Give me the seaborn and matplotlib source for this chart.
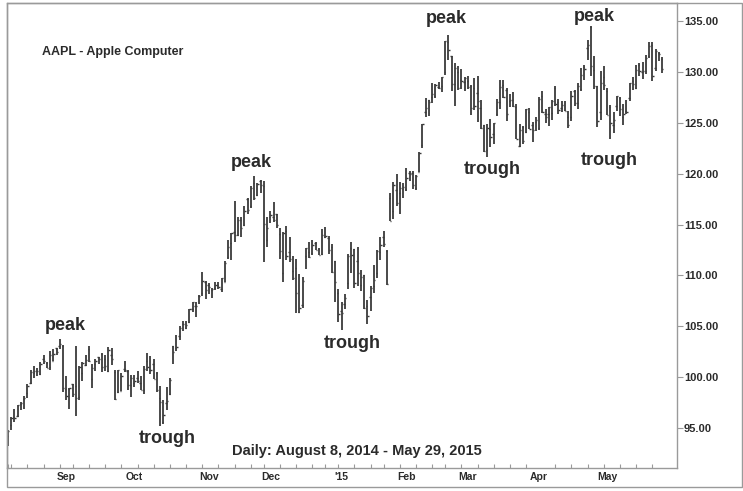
import numpy as np
import pandas as pd
import seaborn as sns
import matplotlib.pyplot as plt
from matplotlib.patches import Rectangle

# === Daily OHLC, AAPL, Aug 8 2014 - May 29 2015 ===
opens = [
    # Aug
    94.26, 95.27, 96.04, 96.15, 97.33, 97.90, 98.49, 99.41, 100.44, 100.57, 100.29, 101.79, 101.42, 101.02, 101.59, 102.86,
    # Sep
    103.06, 103.10, 98.85, 98.80, 99.30, 99.08, 98.01, 100.41, 101.21, 102.81, 99.80, 101.27, 101.93, 102.29, 101.80,
    100.60, 102.16, 100.51, 98.53, 98.65, 100.81,
    # Oct
    100.59, 99.27, 99.44, 99.95, 99.43, 98.76, 101.54, 100.69, 101.33, 100.39, 97.97, 95.55, 97.50, 98.32, 103.02,
    102.84, 104.08, 105.18, 104.85, 105.40, 106.65, 106.96, 108.01,
    # Nov
    108.22, 109.36, 109.10, 108.60, 108.75, 109.02, 108.70, 109.38, 111.80, 113.15, 114.27, 113.94, 115.44, 114.91,
    117.51, 116.85, 119.07, 117.94, 119.27,
    # Dec
    118.81, 113.50, 115.75, 115.77, 115.99, 114.10, 110.19, 114.41, 112.26, 110.46, 110.70, 106.37, 107.12, 111.87,
    112.26, 112.16, 113.23, 112.58, 112.10, 113.79, 113.64, 112.82,
    # Jan
    111.39, 108.29, 106.54, 107.20, 109.23, 112.67, 112.60, 111.43, 109.04, 110.00, 107.03, 107.84, 108.95, 110.26,
    112.30, 113.74, 112.42, 117.63, 116.32, 118.40,
    # Feb
    118.05, 118.50, 118.50, 120.02, 120.02, 118.55, 120.17, 122.77, 126.06, 127.28, 127.49, 127.63, 128.48, 128.62,
    130.02, 132.94, 131.56, 128.79, 130.00,
    # Mar
    129.25, 128.96, 129.10, 128.58, 128.40, 127.96, 126.41, 124.75, 122.31, 124.40, 123.88, 125.90, 127.00, 128.75,
    128.25, 127.12, 127.23, 126.54, 122.76, 124.57, 124.05, 126.09,
    # Apr
    124.82, 125.03, 124.47, 127.64, 125.85, 125.85, 125.95, 128.37, 127.00, 126.41, 126.28, 125.55, 125.57, 128.10,
    126.99, 128.30, 130.49, 132.31, 134.46, 130.16, 128.64,
    # May
    126.10, 129.50, 128.15, 126.56, 124.77, 126.68, 127.39, 125.60, 126.15, 127.41, 129.07, 128.38, 130.69, 130.00,
    130.07, 131.60, 132.60, 130.34, 131.86, 131.23,
]
highs = [
    94.82, 96.08, 96.88, 97.24, 97.57, 98.19, 99.37, 100.68, 101.09, 100.94, 101.47, 102.17, 101.50, 102.57, 102.78, 102.90,
    103.74, 103.20, 100.09, 98.97, 99.31, 103.08, 101.11, 101.44, 102.19, 103.05, 101.26, 101.80, 101.93, 102.35, 102.14,
    102.94, 102.85, 100.71, 100.75, 100.44, 101.54,
    100.69, 100.22, 100.21, 100.65, 100.12, 101.11, 102.38, 102.03, 101.78, 100.52, 99.15, 97.72, 99.00, 99.96, 103.02,
    104.11, 105.05, 105.49, 105.48, 106.74, 107.37, 107.35, 108.04,
    110.30, 109.49, 109.30, 108.79, 109.32, 109.33, 109.75, 111.43, 113.45, 114.19, 117.28, 115.69, 115.74, 116.86,
    117.57, 118.77, 119.75, 119.10, 119.40,
    119.25, 115.75, 116.35, 117.20, 116.08, 114.65, 114.30, 114.85, 113.80, 111.87, 111.60, 110.16, 109.84, 112.65,
    113.24, 113.49, 113.33, 112.71, 114.52, 114.77, 113.92, 113.13,
    111.44, 108.65, 107.43, 108.20, 112.15, 113.25, 112.63, 112.80, 110.49, 110.06, 107.58, 108.97, 111.06, 112.47,
    113.75, 114.36, 112.48, 118.12, 119.19, 120.00,
    119.17, 119.09, 120.51, 120.23, 120.25, 119.84, 122.15, 124.92, 127.48, 127.28, 128.88, 128.78, 129.03, 129.50,
    133.00, 133.60, 131.60, 130.87, 130.57,
    130.28, 129.52, 129.56, 128.75, 129.37, 129.57, 127.22, 124.77, 124.90, 125.40, 124.95, 127.32, 129.16, 129.25,
    128.40, 127.85, 128.04, 126.82, 124.88, 124.70, 126.40, 126.49,
    125.12, 125.56, 127.51, 128.12, 126.40, 126.58, 127.21, 128.57, 127.29, 127.13, 127.10, 126.14, 128.12, 128.20,
    128.87, 130.42, 130.63, 133.13, 134.54, 131.59, 128.64,
    130.13, 130.57, 128.45, 126.75, 126.08, 127.62, 127.56, 126.88, 127.19, 128.95, 129.49, 130.72, 130.88, 130.98,
    131.63, 132.97, 132.91, 132.26, 131.95, 131.45,
]
lows = [
    93.28, 94.84, 95.61, 96.04, 96.80, 96.86, 97.98, 99.32, 99.95, 100.11, 100.19, 101.28, 100.86, 100.70, 101.56, 102.20,
    102.72, 98.58, 97.79, 96.86, 98.05, 96.14, 97.76, 99.62, 101.08, 101.44, 98.89, 100.59, 101.30, 100.50, 100.58,
    100.54, 101.20, 97.72, 98.40, 98.63, 100.53,
    98.70, 98.04, 99.04, 99.42, 98.73, 98.31, 100.61, 100.30, 99.81, 98.57, 95.18, 95.41, 96.81, 98.22, 101.27,
    102.60, 103.63, 104.53, 104.70, 105.35, 106.36, 105.90, 107.21,
    108.01, 107.72, 108.13, 107.80, 108.55, 108.67, 108.40, 109.37, 111.60, 111.56, 113.30, 113.89, 113.80, 114.85,
    116.03, 116.62, 117.45, 117.83, 118.05,
    111.27, 112.75, 115.11, 115.29, 114.64, 111.62, 109.35, 111.54, 111.34, 109.58, 106.35, 106.26, 106.82, 110.66,
    111.66, 111.97, 112.46, 112.01, 112.01, 113.70, 112.11, 110.21,
    107.35, 105.41, 104.63, 106.70, 108.70, 110.21, 108.80, 108.91, 108.50, 106.66, 105.20, 106.50, 108.27, 109.72,
    111.53, 112.80, 109.03, 115.31, 115.56, 116.85,
    116.08, 117.61, 118.31, 119.25, 118.45, 118.43, 120.16, 122.50, 125.57, 125.65, 126.92, 127.45, 128.33, 128.05,
    129.66, 131.17, 128.15, 126.61, 128.24,
    128.30, 128.09, 128.32, 125.76, 126.26, 125.06, 124.35, 122.11, 121.63, 122.58, 122.87, 125.65, 126.37, 127.40,
    125.16, 126.52, 126.56, 123.38, 122.60, 122.91, 124.00, 124.36,
    123.10, 124.19, 124.33, 125.98, 124.97, 124.66, 125.26, 126.61, 125.91, 126.01, 126.11, 124.46, 125.17, 126.67,
    126.32, 128.14, 129.23, 131.15, 129.57, 128.30, 124.58,
    125.30, 128.26, 125.78, 123.36, 124.02, 126.11, 125.62, 124.82, 125.87, 127.16, 128.21, 128.36, 129.64, 129.34,
    129.83, 131.40, 129.12, 130.05, 131.10, 129.90,
]
closes = [
    94.74, 95.99, 95.97, 97.24, 97.50, 97.98, 99.16, 100.53, 100.57, 100.58, 101.32, 101.54, 100.89, 102.13, 102.25, 102.50,
    103.30, 98.94, 98.12, 98.97, 98.36, 97.99, 101.00, 101.43, 101.66, 101.63, 100.86, 101.58, 101.79, 100.96, 101.06,
    102.64, 101.75, 97.87, 100.75, 100.11, 100.75,
    99.18, 99.90, 99.62, 99.62, 98.75, 100.80, 101.02, 100.73, 99.81, 98.75, 97.54, 96.26, 97.67, 99.76, 102.47,
    102.99, 104.83, 105.22, 105.11, 106.74, 107.34, 106.98, 108.00,
    109.40, 108.60, 108.86, 108.70, 109.01, 108.83, 109.70, 111.25, 112.82, 114.18, 113.99, 115.47, 114.67, 116.31,
    116.47, 118.62, 117.60, 119.00, 118.93,
    115.07, 114.63, 115.93, 115.49, 115.00, 112.40, 114.12, 111.95, 111.62, 109.73, 108.23, 106.75, 109.41, 112.65,
    111.78, 112.94, 112.54, 112.01, 113.99, 113.91, 112.52, 110.38,
    109.33, 106.25, 106.26, 107.75, 111.89, 112.01, 109.25, 110.22, 109.80, 106.82, 105.99, 108.72, 109.55, 112.40,
    112.98, 113.10, 109.14, 115.31, 118.90, 117.16,
    118.63, 118.65, 119.56, 119.94, 118.93, 119.72, 122.02, 124.88, 126.46, 127.08, 127.83, 128.72, 128.45, 129.50,
    133.00, 132.17, 128.79, 130.42, 128.46,
    129.09, 129.36, 128.54, 126.41, 126.60, 127.14, 124.51, 122.24, 124.45, 123.59, 124.95, 127.04, 128.47, 127.50,
    125.90, 127.21, 126.69, 123.38, 124.24, 123.25, 126.37, 124.43,
    124.25, 125.32, 127.35, 126.01, 125.60, 126.56, 127.10, 126.85, 126.30, 126.78, 126.17, 124.75, 127.60, 126.91,
    128.62, 129.67, 130.28, 132.65, 130.56, 128.64, 125.15,
    128.95, 128.70, 125.80, 125.01, 125.26, 127.62, 126.32, 125.87, 126.01, 128.95, 128.77, 130.19, 130.07, 130.06,
    131.39, 132.54, 129.62, 132.04, 131.78, 130.28,
]

holidays = ["2014-09-01", "2014-11-27", "2014-12-25", "2015-01-01",
            "2015-01-19", "2015-02-16", "2015-04-03", "2015-05-25"]
month_labels = ["Sep", "Oct", "Nov", "Dec", "'15", "Feb", "Mar", "Apr", "May"]
price_ticks = [95, 100, 105, 110, 115, 120, 125, 130, 135]

# peak / trough call-outs: (text, trading-day index, price)
callouts = [
    ("peak", 17.6, 105.1), ("trough", 49.1, 94.0),
    ("peak", 75.0, 121.1), ("trough", 106.2, 103.3),
    ("peak", 135.5, 135.2), ("trough", 149.7, 120.4),
    ("peak", 181.0, 135.4), ("trough", 185.8, 121.3),
]

dates = pd.bdate_range("2014-08-08", "2015-05-29", freq="C", holidays=holidays)
df = pd.DataFrame({"date": dates, "open": opens, "high": highs, "low": lows, "close": closes})
df["idx"] = np.arange(len(df))

# === Style ===
sns.set_theme(style="white")
plt.rcParams["font.family"] = ["Liberation Sans", "DejaVu Sans"]

frame = "#9a9a9a"
ink = "#2b2b2b"
bar_col = "#3a3a3a"

fig = plt.figure(figsize=(7.43, 4.91), dpi=100)
ax = fig.add_axes([7 / 743, (491 - 468) / 491, 670 / 743, 465 / 491])

# === OHLC bars ===
ax.vlines(df["idx"], df["low"], df["high"], color=bar_col, lw=1.3)
ax.hlines(df["open"], df["idx"] - 0.4, df["idx"], color=bar_col, lw=1.0)
ax.hlines(df["close"], df["idx"], df["idx"] + 0.4, color=bar_col, lw=1.0)

ax.set_xlim(-0.3, 206.6)
ax.set_ylim(91.07, 136.77)

# y axis on the right
ax.yaxis.tick_right()
ax.set_yticks(price_ticks)
ax.set_yticklabels([f"{v:.2f}" for v in price_ticks], fontsize=8, fontweight="bold", color=ink)
ax.tick_params(axis="y", direction="out", length=4, width=0.8, color=frame, pad=1)

# x axis: week ticks and month labels
week_start = df["date"].dt.isocalendar().week.diff().fillna(1) != 0
month_start = df["date"].dt.month.diff().fillna(0) != 0
ax.set_xticks(df.loc[week_start, "idx"], minor=True)
ax.set_xticks(df.loc[month_start, "idx"] + 2)
ax.set_xticklabels(month_labels, fontsize=7.5, fontweight="bold", color=ink)
ax.tick_params(axis="x", which="major", length=0, pad=3)
ax.tick_params(axis="x", which="minor", direction="in", length=3, width=0.8, color=frame, bottom=True)

for s in ax.spines.values():
    s.set_color(frame)
    s.set_linewidth(1.0)

# === Text ===
for label, xi, yv in callouts:
    ax.text(xi, yv, label, ha="center", va="center", fontsize=13, fontweight="bold", color=ink)

fig.text(42 / 743, 1 - 52 / 491, "AAPL - Apple Computer", ha="left", va="center",
         fontsize=9, fontweight="bold", color=ink)
fig.text(357 / 743, 1 - 451 / 491, "Daily: August 8, 2014 - May 29, 2015", ha="center", va="center",
         fontsize=10.5, fontweight="bold", color=ink)

# outer frame
fig.patches.append(Rectangle((7 / 743, (491 - 487) / 491), 735 / 743, 484 / 491,
                             transform=fig.transFigure, fill=False, ec=frame, lw=1.0))

fig.savefig("out.png", dpi=100, facecolor="white")
